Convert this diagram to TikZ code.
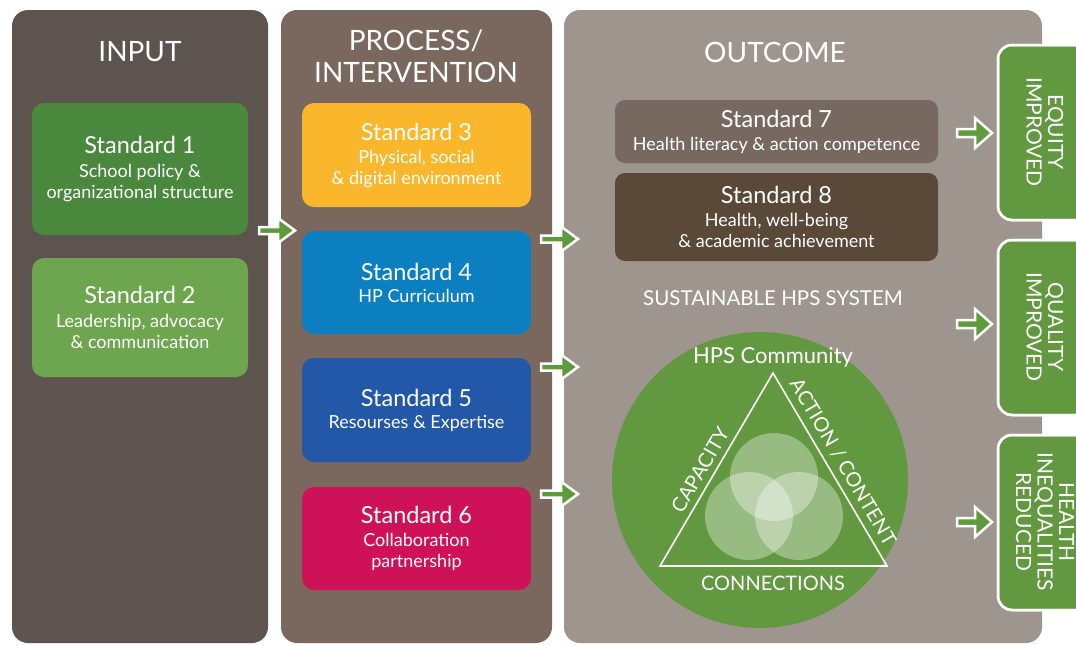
\documentclass[tikz,border=0pt]{standalone}
\usepackage{fontspec}
\setmainfont{Lato}
\usetikzlibrary{calc}
\definecolor{colA}{HTML}{5D534F}
\definecolor{colB}{HTML}{7A685E}
\definecolor{colC}{HTML}{9E958E}
\definecolor{sA}{HTML}{4A893D}
\definecolor{sB}{HTML}{6DA64F}
\definecolor{sC}{HTML}{FBB72B}
\definecolor{sD}{HTML}{0C7FC0}
\definecolor{sE}{HTML}{2357A7}
\definecolor{sF}{HTML}{CF1257}
\definecolor{sG}{HTML}{786960}
\definecolor{sH}{HTML}{5A4838}
\definecolor{hgreen}{HTML}{62983F}
\definecolor{agreen}{HTML}{5E9C3B}
\newcommand{\bigt}{\fontsize{23.5}{26}\selectfont}
\newcommand{\smt}{\fontsize{18}{21}\selectfont}
\newcommand{\ttl}{\fontsize{28}{32}\selectfont}
% block arrow: x tail, y center, x tip, half head width, half shaft width
\newcommand{\garrow}[5]{%
  \draw[arrowline] (#1,#2-#5) -- (#3-17,#2-#5) -- (#3-17,#2-#4) -- (#3,#2)
    -- (#3-17,#2+#4) -- (#3-17,#2+#5) -- (#1,#2+#5) -- cycle;}
\begin{document}
\begin{tikzpicture}[x=1pt,y=-1pt,
  colbox/.style={rounded corners=16},
  stdbox/.style={rounded corners=12, text=white, align=center, inner sep=0pt, font=\smt},
  ttext/.style={text=white, font=\ttl, align=center},
  arrowline/.style={draw=white, line width=2.5pt, fill=agreen, line join=miter},
  outbox/.style={fill=hgreen, draw=white, line width=2.5pt, rounded corners=14},
  outtext/.style={text=white, rotate=-90, align=center, font=\fontsize{21}{21.5}\selectfont},
  tri/.style={draw=white, line width=1.6pt},
  sidetext/.style={text=white, font=\fontsize{20}{22}\selectfont}]
\useasboundingbox (0,0) rectangle (1076,645);
\fill[white] (0,0) rectangle (1076,645);
% columns
\fill[colA, colbox] (12,10) rectangle (268,643);
\fill[colB, colbox] (281,10) rectangle (552,643);
\fill[colC, colbox] (564,10) rectangle (1042,643);
% titles
\node[ttext] (tin) at (140,52) {INPUT};
\node[ttext] (tpr) at (416,56) {PROCESS/\\INTERVENTION};
\node[ttext] (tout) at (775,52) {OUTCOME};
% input standards
\node[stdbox, fill=sA, minimum width=216pt, minimum height=132pt] (s1) at (140,169)
  {{\bigt Standard 1}\\[3pt]School policy \&\\organizational structure};
\node[stdbox, fill=sB, minimum width=216pt, minimum height=119pt] (s2) at (140,317.5)
  {{\bigt Standard 2}\\[3pt]Leadership, advocacy\\\& communication};
% process standards
\node[stdbox, fill=sC, minimum width=229pt, minimum height=104pt] (s3) at (416.5,155)
  {{\bigt Standard 3}\\[2pt]Physical, social\\\& digital environment};
\node[stdbox, fill=sD, minimum width=229pt, minimum height=103pt] (s4) at (416.5,282.5)
  {{\bigt Standard 4}\\[1pt]HP Curriculum};
\node[stdbox, fill=sE, minimum width=229pt, minimum height=104pt] (s5) at (416.5,410)
  {{\bigt Standard 5}\\[1pt]Resourses \& Expertise};
\node[stdbox, fill=sF, minimum width=229pt, minimum height=103pt] (s6) at (416.5,538.5)
  {{\bigt Standard 6}\\[2pt]Collaboration\\partnership};
% outcome standards
\node[stdbox, fill=sG, minimum width=323pt, minimum height=63pt, rounded corners=10] (s7) at (776.5,131.5)
  {{\bigt Standard 7}\\[2pt]Health literacy \& action competence};
\node[stdbox, fill=sH, minimum width=323pt, minimum height=88pt, rounded corners=10] (s8) at (776.5,217)
  {{\bigt Standard 8}\\[2pt]Health, well-being\\\& academic achievement};
\node[text=white, font=\fontsize{20.5}{22}\selectfont] (sys) at (773,298) {SUSTAINABLE HPS SYSTEM};
% HPS circle
\node[circle, fill=hgreen, minimum size=296pt, inner sep=0pt] (hps) at (760,480) {};
\node[text=white, font=\fontsize{22}{24}\selectfont] (comm) at (773,357) {HPS Community};
\fill[white, opacity=0.35] (774,477) circle (44);
\fill[white, opacity=0.35] (749,516) circle (44);
\fill[white, opacity=0.35] (799,516) circle (44);
\coordinate (ta) at (773,373);
\coordinate (tl) at (660,566);
\coordinate (tr) at (887,566);
\draw[tri] (ta) -- (tl) -- (tr) -- cycle;
\node[sidetext, rotate=59.6] (cap) at (700,470) {CAPACITY};
\node[sidetext, rotate=-59.6] (act) at (843,462) {ACTION / CONTENT};
\node[sidetext] (con) at (773,583) {CONNECTIONS};
% outcome result boxes
\fill[outbox] (998,45) rectangle (1094,220);
\fill[outbox] (998,240) rectangle (1094,415);
\fill[outbox] (998,435) rectangle (1094,610);
\draw[white, line width=2.5pt, rounded corners=14] (998,45) rectangle (1094,220);
\draw[white, line width=2.5pt, rounded corners=14] (998,240) rectangle (1094,415);
\draw[white, line width=2.5pt, rounded corners=14] (998,435) rectangle (1094,610);
\node[outtext] (r1) at (1045,132) {EQUITY\\IMPROVED};
\node[outtext] (r2) at (1045,327) {QUALITY\\IMPROVED};
\node[outtext] (r3) at (1045,522) {HEALTH\\INEQUALITIES\\REDUCED};
% arrows
\garrow{259}{230.5}{295}{12.5}{3.5}
\garrow{541}{239}{578}{12.5}{3.5}
\garrow{541}{367}{578}{12.5}{3.5}
\garrow{541}{494}{578}{12.5}{3.5}
\garrow{957}{133}{992}{15}{4}
\garrow{957}{324}{992}{15}{4}
\garrow{957}{522}{992}{15}{4}
\end{tikzpicture}
\end{document}
